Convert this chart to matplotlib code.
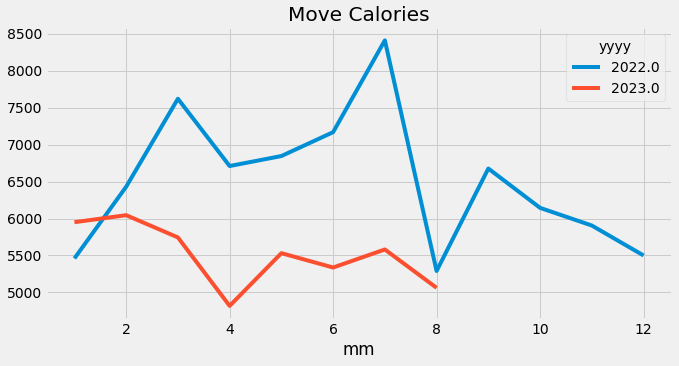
import matplotlib
matplotlib.use("Agg")
import matplotlib.pyplot as plt

months = list(range(1, 13))
cal_2022 = [5460, 6430, 7620, 6710, 6845, 7168, 8410, 5290, 6676, 6144, 5905, 5500]
months_2023 = list(range(1, 9))
cal_2023 = [5950, 6045, 5744, 4818, 5531, 5337, 5581, 5062]
years = ["2022.0", "2023.0"]

plt.style.use("fivethirtyeight")

fig = plt.figure(figsize=(679 / 72, 366 / 72), dpi=72)
ax = fig.add_axes([0.0677, 0.128, 0.922, 0.798])
ax.plot(months, cal_2022, label=years[0])
ax.plot(months_2023, cal_2023, label=years[1])
ax.set_title("Move Calories")
ax.set_xlabel("mm")
ax.legend(title="yyyy")
fig.savefig("out.png", dpi=72)
